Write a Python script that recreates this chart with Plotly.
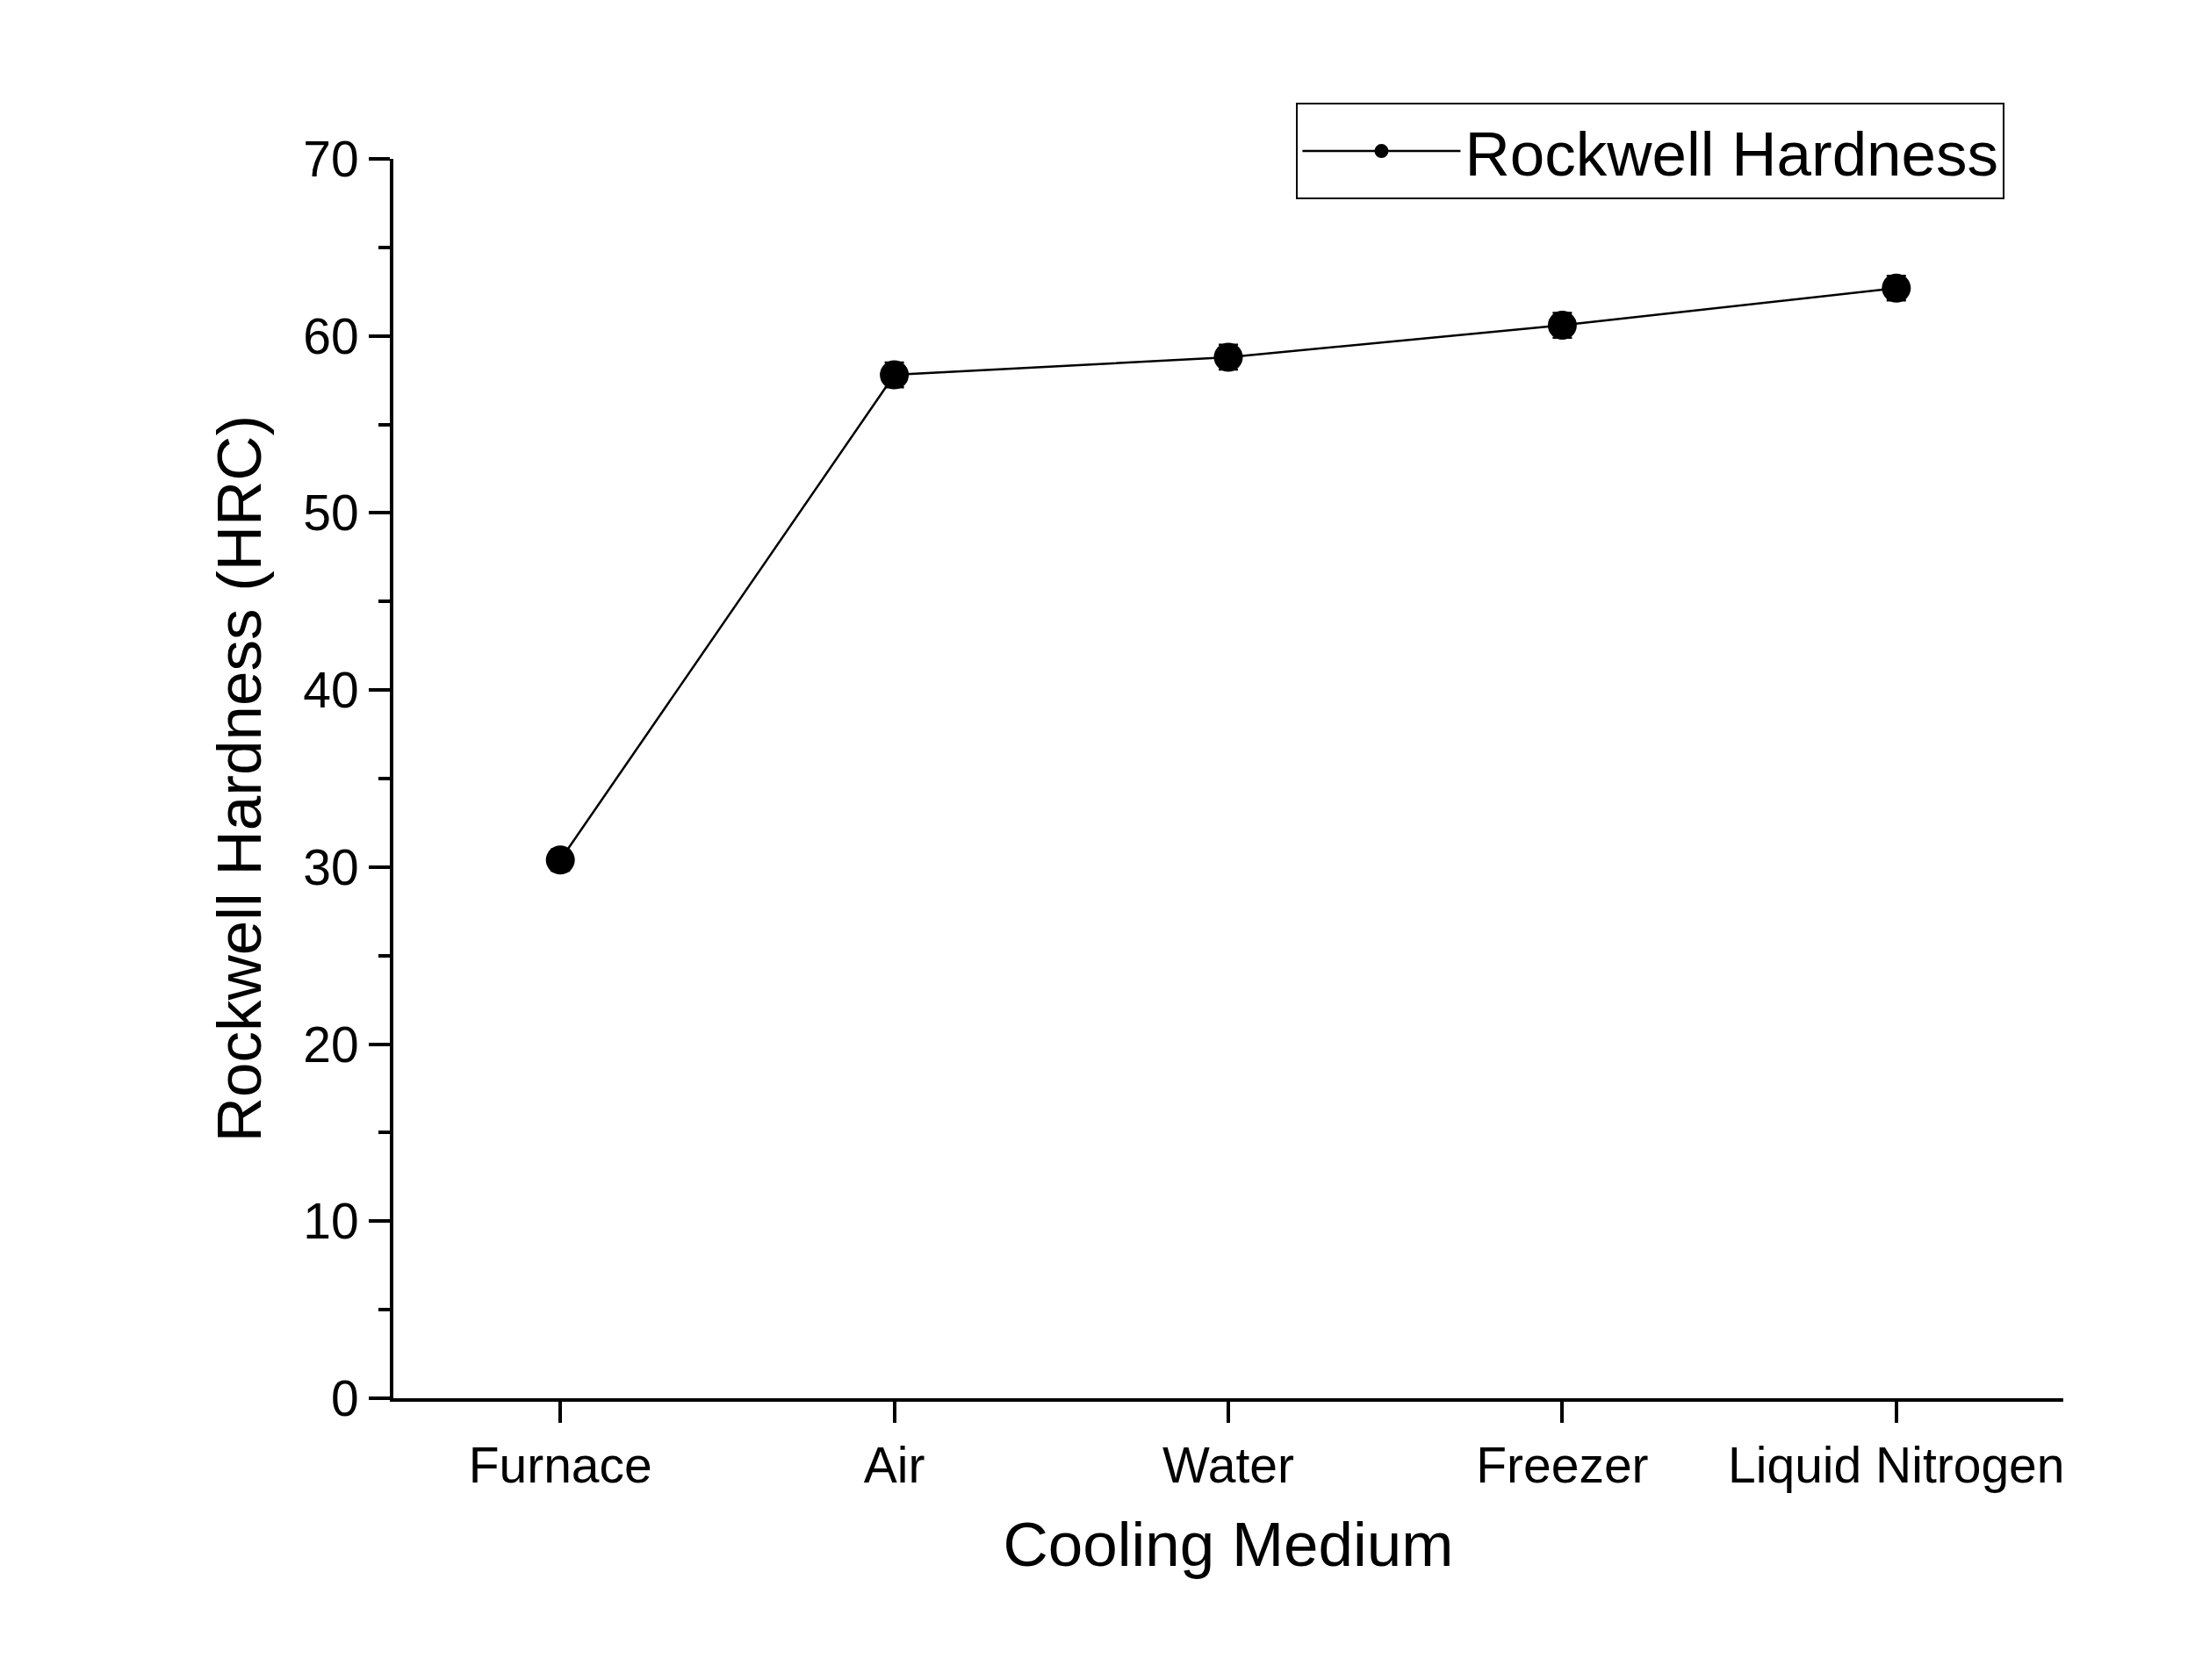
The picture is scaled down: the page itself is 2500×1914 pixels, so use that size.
import plotly.graph_objects as go

media = ["Furnace", "Air", "Water", "Freezer", "Liquid Nitrogen"]
hardness = [30.4, 57.8, 58.8, 60.6, 62.7]
errors = [0.6, 0.7, 0.7, 0.7, 0.7]

W, H = 2500, 1914
L, R, T, B = 440, 158, 173, 329
font = "Liberation Sans, Arial, sans-serif"

fig = go.Figure()
fig.add_trace(go.Scatter(
    x=list(range(len(media))), y=hardness,
    error_y=dict(type="data", array=errors, color="black", thickness=2.5, width=11),
    mode="lines+markers",
    line=dict(color="black", width=2.5),
    marker=dict(color="black", size=33),
    name="Rockwell Hardness",
))

axis_common = dict(
    showline=True, linecolor="black", linewidth=4, mirror=False,
    ticks="outside", ticklen=24, tickwidth=4, tickcolor="black",
    showgrid=False, zeroline=False,
    tickfont=dict(family=font, size=57, color="black"),
)
fig.update_xaxes(
    **axis_common,
    tickvals=list(range(len(media))), ticktext=media,
    range=[-0.5, 4.5],
    title=dict(text="Cooling Medium", font=dict(family=font, size=71, color="black"), standoff=35),
)
fig.update_yaxes(
    **axis_common,
    range=[0, 70], dtick=10,
    minor=dict(dtick=5, ticks="outside", ticklen=13, tickwidth=4, tickcolor="black"),
    title=dict(text="Rockwell Hardness (HRC)", font=dict(family=font, size=71, color="black"), standoff=25),
)
fig.update_layout(
    width=W, height=H,
    margin=dict(l=L, r=R, t=T, b=B),
    paper_bgcolor="white", plot_bgcolor="white",
    showlegend=True,
    legend=dict(
        x=0.965, y=1.045, xanchor="right", yanchor="top",
        bordercolor="black", borderwidth=2, bgcolor="white",
        font=dict(family=font, size=71, color="black"),
        itemwidth=180,
    ),
)
fig.write_html("out.html")
